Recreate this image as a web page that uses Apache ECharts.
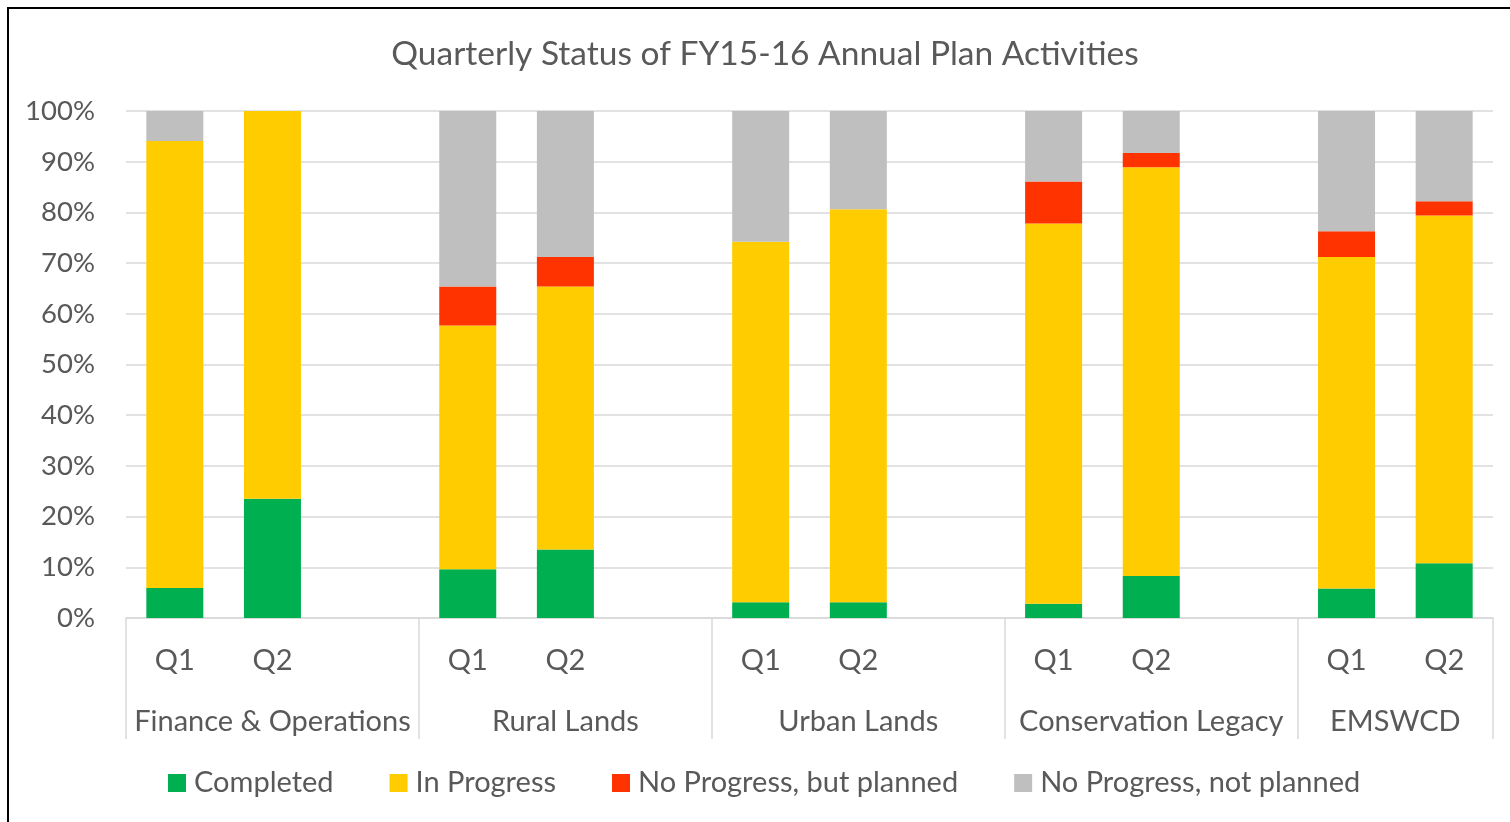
<!DOCTYPE html>
<html>
<head>
<meta charset="utf-8">
<title>Quarterly Status of FY15-16 Annual Plan Activities</title>
<script src="https://cdn.jsdelivr.net/npm/echarts@6/dist/echarts.min.js"></script>
<style>
	html, body { margin: 0; padding: 0; overflow: hidden; background: #fff; }
	#frame { position: absolute; left: 7px; top: 7px; width: 1700px; height: 1000px; border: 2px solid #000; }
	#chart { position: absolute; left: 0; top: 0; width: 1510px; height: 822px; }
</style>
</head>
<body>
<div id="frame"></div>
<div id="chart"></div>
<script>
var groups = [ 'Finance & Operations', 'Rural Lands', 'Urban Lands', 'Conservation Legacy', 'EMSWCD' ];
var quarters = [ 'Q1', 'Q2' ];

// one value per group & quarter, in percent (Q1, Q2, Q1, Q2, ...)
var completed = [ 5.9, 23.5, 9.6, 13.5, 3.1, 3.1, 2.8, 8.3, 5.8, 10.8 ];
var inProgress = [ 88.2, 76.5, 48.1, 51.9, 71.1, 77.5, 75.0, 80.6, 65.4, 68.6 ];
var noProgressPlanned = [ 0, 0, 7.7, 5.8, 0, 0, 8.3, 2.8, 5.1, 2.8 ];
var noProgressNotPlanned = [ 5.9, 0, 34.6, 28.8, 25.8, 19.4, 13.9, 8.3, 23.7, 17.8 ];

var yTicks = [ 0, 10, 20, 30, 40, 50, 60, 70, 80, 90, 100 ];

var textColor = '#595959';
var lineColor = '#D9D9D9';

// every group gets Q1, Q2 and an empty slot, except the last group
var categories = [];
var slotOf = [];
var groupStart = [];
var groupSize = [];
var $each = function (arr, fn) { for (var i = 0; i < arr.length; i++) fn(arr[i], i); };
$each(groups, function (g, gi) {
	groupStart.push(categories.length);
	$each(quarters, function (q) {
		slotOf.push(categories.length);
		categories.push(g + '|' + q);
	});
	if (gi < groups.length - 1) categories.push(g + '|');
	groupSize.push(categories.length - groupStart[gi]);
});
var groupCenters = groups.map(function (g, i) { return groupStart[i] + groupSize[i] / 2; });
var groupEdges = groupStart.concat([ categories.length ]);

function toSlots(values) {
	var out = categories.map(function () { return null; });
	$each(values, function (v, i) { out[slotOf[i]] = v; });
	return out;
}

var chart = echarts.init(document.getElementById('chart'));

var barSeries = function (name, values, color) {
	return {
		name : name,
		type : 'bar',
		stack : 'status',
		xAxisIndex : 0,
		barWidth : 57,
		data : toSlots(values),
		itemStyle : { color : color },
		emphasis : { disabled : true }
	};
};

var option = {
	animation : false,
	textStyle : { fontFamily : 'Lato' },
	title : {
		// left padding in the rich block nudges the centred title a little to the right
		text : '{t|Quarterly Status of FY15-16 Annual Plan Activities}',
		left : 'center',
		top : 34,
		padding : 0,
		textStyle : {
			rich : {
				t : {
					fontFamily : 'Lato',
					fontSize : 33.5,
					fontWeight : 'normal',
					color : textColor,
					lineHeight : 40,
					padding : [ 0, 0, 0, 20 ]
				}
			}
		}
	},
	legend : {
		left : 168,
		top : 766,
		padding : 0,
		itemWidth : 18,
		itemHeight : 18,
		itemGap : 56,
		icon : 'rect',
		textStyle : {
			fontFamily : 'Lato',
			fontSize : 29,
			color : textColor,
			lineHeight : 34,
			padding : [ 0, 0, 0, 3 ]
		},
		data : [ 'Completed', 'In Progress', 'No Progress, but planned', 'No Progress, not planned' ]
	},
	grid : {
		left : 126,
		right : 17,
		top : 111,
		bottom : 204,
		outerBoundsMode : 'none'
	},
	xAxis : [ {
		type : 'category',
		position : 'bottom',
		data : categories,
		axisLine : { lineStyle : { color : lineColor, width : 1.5 } },
		axisTick : { show : false },
		axisLabel : {
			interval : 0,
			margin : 26,
			fontSize : 29,
			lineHeight : 34,
			color : textColor,
			formatter : function (v) { return v.split('|')[1]; }
		}
	}, {
		type : 'value',
		position : 'bottom',
		min : 0,
		max : categories.length,
		axisLine : { show : false },
		splitLine : { show : false },
		axisTick : {
			show : true,
			customValues : groupEdges,
			length : 121,
			lineStyle : { color : lineColor, width : 1.5 }
		},
		axisLabel : {
			customValues : groupCenters,
			margin : 87,
			fontSize : 29,
			lineHeight : 34,
			color : textColor,
			formatter : function (v) {
				var i = groupCenters.indexOf(v);
				return i >= 0 ? groups[i] : '';
			}
		}
	} ],
	yAxis : {
		type : 'value',
		min : yTicks[0],
		max : yTicks[yTicks.length - 1],
		interval : 10,
		axisLine : { show : false },
		axisTick : { show : false },
		axisLabel : {
			margin : 31,
			fontSize : 27.5,
			color : textColor,
			formatter : '{value}%'
		},
		splitLine : { lineStyle : { color : lineColor, width : 1.5 } }
	},
	series : [
		barSeries('Completed', completed, '#00B050'),
		barSeries('In Progress', inProgress, '#FFCC00'),
		barSeries('No Progress, but planned', noProgressPlanned, '#FF3300'),
		barSeries('No Progress, not planned', noProgressNotPlanned, '#BFBFBF')
	]
};
chart.setOption(option);
</script>
</body>
</html>
